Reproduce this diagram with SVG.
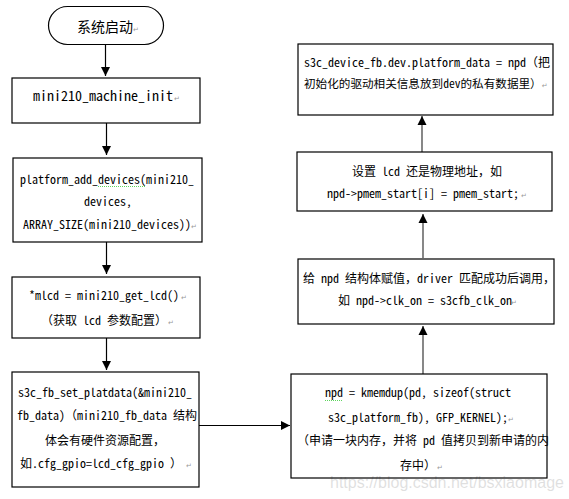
<svg xmlns="http://www.w3.org/2000/svg" width="569" height="499" viewBox="0 0 569 499">
<defs>
<style>
.box{fill:#fff;stroke:#000;stroke-width:1.2}
.t{font-family:"Noto Sans Mono CJK SC","Noto Sans CJK SC","Liberation Mono",monospace;font-size:12px;fill:#000}
.t14{font-size:14px}
.pm{font-family:"DejaVu Sans",sans-serif;font-size:7px;fill:#999}
.ln{stroke:#000;stroke-width:1.2;fill:none}
.lg{stroke:#555;stroke-width:1.4;fill:none}
.sq{stroke:#3c3;stroke-width:0.8;fill:none;stroke-dasharray:1 1}
.wm{font-family:"Liberation Sans",Arial,sans-serif;font-size:16px;fill:#000;opacity:0.12}
</style>
<marker id="ah" markerWidth="10" markerHeight="10" refX="9" refY="5" orient="auto" markerUnits="userSpaceOnUse">
<path d="M0,0.5 L9,5 L0,9.5 Z" fill="#000"/>
</marker>
</defs>
<rect width="569" height="499" fill="#fff"/>
<g id="connectors">
<line class="ln" x1="105.5" y1="44" x2="105.5" y2="76" marker-end="url(#ah)"/>
<line class="ln" x1="106.5" y1="123" x2="106.5" y2="155" marker-end="url(#ah)"/>
<line class="ln" x1="106.5" y1="242" x2="106.5" y2="274" marker-end="url(#ah)"/>
<line class="ln" x1="106.5" y1="338" x2="106.5" y2="370" marker-end="url(#ah)"/>
<line class="ln" x1="199" y1="425.5" x2="290" y2="425.5" marker-end="url(#ah)"/>
<line class="lg" x1="423" y1="374" x2="423" y2="326" marker-end="url(#ah)"/>
<line class="lg" x1="423" y1="258" x2="423" y2="214" marker-end="url(#ah)"/>
<line class="lg" x1="422" y1="152" x2="422" y2="116" marker-end="url(#ah)"/>
</g>
<g id="start">
<rect class="box" x="48.5" y="6.5" width="115" height="38" rx="19"/>
<text class="t t14" x="77" y="32">系统启动</text><text class="pm" x="133" y="32">↵</text>
</g>
<g id="machine_init">
<rect class="box" x="12" y="78" width="188" height="45"/>
<text class="t t14" x="33" y="101">mini210_machine_init</text><text class="pm" x="174" y="101">↵</text>
</g>
<g id="add_devices">
<rect class="box" x="13" y="158" width="189" height="84"/>
<text class="t" x="20" y="184">platform_add_devices(mini210_</text>
<path class="sq" d="M98,186.5 l47,0"/>
<text class="t" x="84" y="206">devices,</text>
<text class="t" x="23" y="229">ARRAY_SIZE(mini210_devices))</text><text class="pm" x="191" y="229">↵</text>
</g>
<g id="get_lcd">
<rect class="box" x="12" y="277" width="188" height="61"/>
<text class="t" x="29" y="300">*mlcd = mini210_get_lcd()</text><text class="pm" x="181" y="300">↵</text>
<text class="t" x="41" y="325">（获取 lcd 参数配置）</text><text class="pm" x="168" y="325">↵</text>
</g>
<g id="set_platdata">
<rect class="box" x="12" y="372" width="187" height="115"/>
<text class="t" x="18" y="397">s3c_fb_set_platdata(&amp;mini210_</text>
<text class="t" x="17" y="420">fb_data)（mini210_fb_data 结构</text>
<text class="t" x="45" y="445">体会有硬件资源配置，</text>
<text class="t" x="20" y="468">如.cfg_gpio=lcd_cfg_gpio ）</text><text class="pm" x="186" y="468">↵</text>
</g>
<g id="kmemdup">
<rect class="box" x="291" y="374" width="256" height="104"/>
<text class="t" x="325" y="397">npd = kmemdup(pd, sizeof(struct</text>
<path class="sq" d="M325,400.5 l18,0"/>
<text class="t" x="328" y="422">s3c_platform_fb), GFP_KERNEL);</text><text class="pm" x="508" y="422">↵</text>
<text class="t" x="297" y="445">（申请一块内存，并将 pd 值拷贝到新申请的内</text>
<text class="t" x="400" y="470">存中）</text><text class="pm" x="437" y="470">↵</text>
</g>
<g id="assign_npd">
<rect class="box" x="298" y="259" width="256" height="65"/>
<text class="t" x="303" y="283">给 npd 结构体赋值，driver 匹配成功后调用，</text>
<text class="t" x="338" y="305">如 npd-&gt;clk_on = s3cfb_clk_on</text><text class="pm" x="511" y="305">↵</text>
</g>
<g id="pmem_start">
<rect class="box" x="297" y="152" width="255" height="59"/>
<text class="t" x="352" y="176">设置 lcd 还是物理地址，如</text>
<text class="t" x="327" y="198">npd-&gt;pmem_start[i] = pmem_start;</text><text class="pm" x="521" y="198">↵</text>
</g>
<g id="platform_data">
<rect class="box" x="298" y="44" width="255" height="71"/>
<text class="t" x="304" y="67">s3c_device_fb.dev.platform_data = npd（把</text>
<text class="t" x="304" y="88" style="font-size:11.6px">初始化的驱动相关信息放到dev的私有数据里）<tspan class="pm">↵</tspan></text>
</g>
<text class="wm" x="330" y="488">https://blog.csdn.net/bsxiaomage</text>
</svg>
